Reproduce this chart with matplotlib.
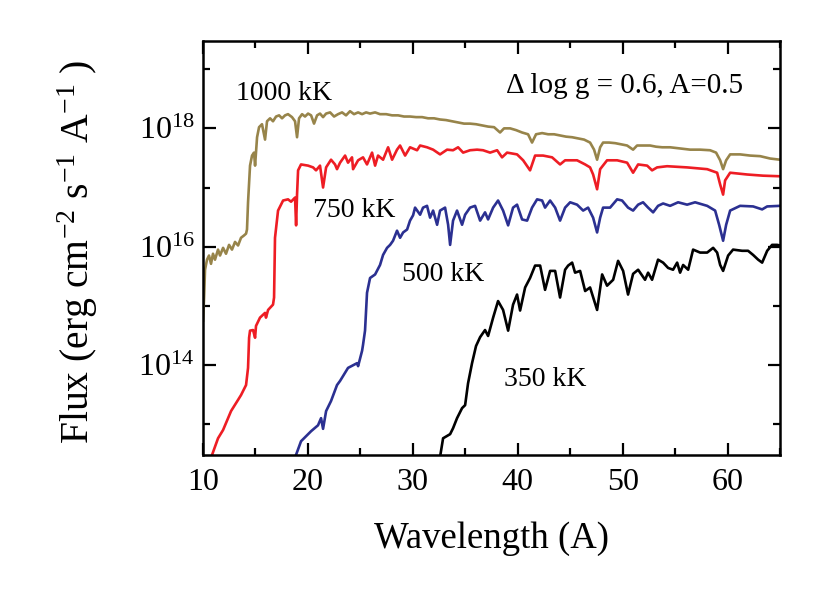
import matplotlib
matplotlib.use("Agg")
import matplotlib.pyplot as plt
import numpy as np
from matplotlib.ticker import FuncFormatter

plt.rcParams["font.family"] = ["Liberation Serif", "DejaVu Serif"]
plt.rcParams["mathtext.fontset"] = "custom"
plt.rcParams["mathtext.rm"] = "Liberation Serif"
plt.rcParams["mathtext.it"] = "Liberation Serif:italic"
plt.rcParams["mathtext.bf"] = "Liberation Serif:bold"

# Spectra: wavelength (A) and log10 of flux
wl_1000 = [10.0, 10.1, 10.19, 10.38, 10.57, 10.76, 10.95, 11.14, 11.43, 11.62, 11.91, 12.19, 12.48, 12.76,
           13.05, 13.34, 13.62, 13.91, 14.1, 14.19, 14.29, 14.39, 14.48, 14.67, 14.86, 14.96, 15.15, 15.34,
           15.62, 15.91, 16.1, 16.39, 16.67, 16.96, 17.25, 17.53, 17.82, 18.1, 18.48, 18.77, 18.96, 19.15,
           19.44, 19.72, 20.01, 20.3, 20.58, 20.87, 21.15, 21.44, 21.73, 22.11, 22.49, 22.87, 23.25, 23.63,
           24.01, 24.39, 24.78, 25.16, 25.54, 25.92, 26.4, 26.87, 27.45, 28.02, 28.59, 29.16, 29.73, 30.31,
           30.88, 31.45, 32.02, 32.59, 33.16, 33.74, 34.31, 34.88, 35.45, 36.02, 36.6, 37.17, 37.74, 38.31,
           38.69, 39.27, 39.84, 40.41, 40.98, 41.36, 41.74, 42.32, 42.89, 43.46, 44.03, 44.6, 45.18, 45.75,
           46.32, 46.89, 47.27, 47.56, 47.85, 48.13, 48.7, 49.28, 49.85, 50.42, 50.99, 51.37, 51.94, 52.61,
           53.18, 53.76, 54.52, 55.47, 56.43, 57.38, 58.33, 58.9, 59.29, 59.57, 59.86, 60.24, 61.19, 62.14,
           63.1, 64.05, 65.0]
logf_1000 = [14.75, 15.14, 15.61, 15.78, 15.85, 15.71, 15.88, 15.78, 15.95, 15.85, 15.98, 15.88, 16.03, 15.95,
             16.08, 16.02, 16.15, 16.19, 16.22, 16.29, 16.75, 17.08, 17.37, 17.54, 17.59, 17.37, 17.85, 18.02,
             18.07, 17.81, 18.12, 18.17, 18.12, 18.2, 18.22, 18.17, 18.22, 18.24, 18.19, 18.12, 17.85, 18.17,
             18.24, 18.2, 18.25, 18.22, 18.08, 18.22, 18.25, 18.19, 18.25, 18.27, 18.2, 18.24, 18.27, 18.22,
             18.29, 18.24, 18.27, 18.24, 18.27, 18.25, 18.27, 18.24, 18.24, 18.22, 18.22, 18.2, 18.2, 18.19,
             18.19, 18.17, 18.17, 18.15, 18.14, 18.12, 18.1, 18.08, 18.08, 18.07, 18.05, 18.03, 18.02, 17.93,
             18.0, 18.0, 17.97, 17.93, 17.9, 17.76, 17.9, 17.92, 17.9, 17.9, 17.88, 17.86, 17.85, 17.83,
             17.81, 17.76, 17.64, 17.47, 17.68, 17.76, 17.76, 17.75, 17.73, 17.71, 17.64, 17.71, 17.71, 17.71,
             17.69, 17.68, 17.68, 17.66, 17.64, 17.64, 17.63, 17.59, 17.46, 17.31, 17.46, 17.56, 17.56, 17.54,
             17.53, 17.49, 17.47]

wl_750 = [10.7, 11.43, 11.91, 12.67, 13.34, 13.62, 14.1, 14.29, 14.39, 14.48, 14.77, 14.96, 15.05, 15.43,
          15.91, 16.0, 16.2, 16.67, 16.77, 16.86, 17.15, 17.63, 18.1, 18.39, 18.77, 18.87, 18.96, 19.06,
          19.34, 20.01, 20.49, 20.77, 21.15, 21.44, 21.73, 22.2, 22.58, 22.77, 23.06, 23.54, 23.82, 24.2,
          24.3, 24.78, 25.25, 25.63, 26.11, 26.4, 26.68, 27.16, 27.64, 28.02, 28.49, 28.78, 29.26, 29.73,
          30.4, 30.69, 31.35, 31.93, 32.59, 33.26, 33.83, 34.31, 34.79, 35.45, 36.12, 36.69, 37.36, 38.03,
          38.5, 38.98, 39.93, 40.51, 41.17, 41.65, 42.41, 43.27, 44.03, 44.51, 45.65, 46.42, 46.89, 47.18,
          47.56, 47.85, 48.51, 49.47, 50.42, 50.99, 51.47, 52.33, 52.8, 53.28, 54.23, 56.14, 58.05, 59.0,
          59.29, 59.57, 59.76, 60.24, 61.86, 63.38, 65.0]
logf_750 = [12.4, 12.76, 12.9, 13.22, 13.41, 13.49, 13.66, 13.95, 14.46, 14.58, 14.59, 14.46, 14.66, 14.8,
            14.88, 14.8, 14.93, 15.02, 15.14, 16.15, 16.61, 16.78, 16.8, 16.76, 16.83, 16.36, 16.88, 17.29,
            17.39, 17.37, 17.34, 17.29, 17.37, 17.0, 17.34, 17.47, 17.39, 17.31, 17.42, 17.54, 17.42, 17.51,
            17.31, 17.46, 17.51, 17.39, 17.59, 17.37, 17.54, 17.47, 17.68, 17.47, 17.64, 17.71, 17.54, 17.68,
            17.63, 17.71, 17.68, 17.64, 17.56, 17.64, 17.63, 17.68, 17.59, 17.63, 17.64, 17.63, 17.59, 17.63,
            17.51, 17.59, 17.56, 17.46, 17.29, 17.54, 17.54, 17.51, 17.39, 17.46, 17.46, 17.39, 17.34, 17.22,
            16.97, 17.31, 17.46, 17.46, 17.42, 17.25, 17.39, 17.37, 17.29, 17.34, 17.36, 17.34, 17.31, 17.25,
            17.05, 16.88, 17.12, 17.25, 17.22, 17.2, 17.19]

wl_500 = [18.7, 19.34, 20.3, 20.96, 21.25, 21.44, 21.73, 22.2, 22.77, 23.06, 23.82, 24.68, 24.78, 25.16,
          25.25, 25.44, 25.63, 25.92, 26.4, 26.87, 27.16, 27.54, 27.83, 28.11, 28.49, 28.78, 29.07, 29.45,
          29.73, 30.02, 30.21, 30.69, 30.97, 31.35, 31.64, 31.93, 32.31, 32.59, 33.07, 33.36, 33.55, 33.83,
          34.21, 34.69, 34.98, 35.45, 35.93, 36.41, 36.88, 37.17, 37.65, 38.12, 38.6, 39.08, 39.55, 39.93,
          40.41, 40.89, 41.36, 41.84, 42.32, 42.6, 43.08, 43.56, 44.03, 44.51, 44.99, 45.65, 46.23, 46.7,
          47.18, 47.56, 47.85, 48.13, 48.8, 49.47, 49.94, 50.51, 50.99, 51.47, 51.94, 52.42, 52.9, 53.37,
          53.85, 54.52, 55.28, 56.14, 56.9, 58.05, 58.81, 59.19, 59.57, 59.86, 60.24, 61.19, 62.43, 63.29,
          63.77, 65.0]
logf_500 = [12.4, 12.71, 12.88, 12.98, 13.1, 12.92, 13.22, 13.39, 13.66, 13.73, 13.95, 14.03, 13.98, 14.24,
            14.34, 14.58, 15.22, 15.47, 15.53, 15.69, 15.86, 15.98, 16.03, 16.1, 16.27, 16.15, 16.24, 16.29,
            16.44, 16.53, 16.66, 16.54, 16.66, 16.69, 16.49, 16.61, 16.37, 16.61, 16.66, 16.37, 16.03, 16.44,
            16.61, 16.37, 16.54, 16.66, 16.69, 16.44, 16.58, 16.46, 16.66, 16.78, 16.61, 16.36, 16.66, 16.71,
            16.46, 16.44, 16.66, 16.8, 16.78, 16.66, 16.78, 16.66, 16.44, 16.66, 16.75, 16.71, 16.61, 16.66,
            16.49, 16.24, 16.49, 16.66, 16.66, 16.8, 16.78, 16.66, 16.61, 16.71, 16.75, 16.66, 16.58, 16.69,
            16.73, 16.69, 16.75, 16.71, 16.75, 16.69, 16.61, 16.37, 16.1, 16.37, 16.61, 16.69, 16.68, 16.63,
            16.68, 16.69]

wl_350 = [32.55, 32.88, 33.55, 33.83, 34.21, 34.69, 34.98, 35.26, 35.64, 36.02, 36.41, 36.88, 37.17, 37.65,
          38.12, 38.6, 39.08, 39.55, 39.93, 40.22, 40.7, 41.17, 41.65, 42.13, 42.6, 43.08, 43.56, 44.03,
          44.51, 44.8, 45.18, 45.46, 45.94, 46.42, 46.89, 47.56, 48.04, 48.51, 49.09, 49.56, 50.04, 50.51,
          50.99, 51.47, 52.13, 52.42, 52.8, 53.37, 53.85, 54.33, 54.8, 55.19, 55.47, 55.76, 56.24, 56.71,
          57.38, 58.05, 58.62, 59.0, 59.29, 59.57, 60.05, 60.52, 61.38, 61.95, 62.43, 62.91, 63.29, 63.77,
          64.24, 64.72, 65.0]
logf_350 = [12.4, 12.76, 12.83, 12.93, 13.1, 13.27, 13.32, 13.69, 14.03, 14.32, 14.47, 14.59, 14.49, 14.8,
            15.08, 14.93, 14.58, 15.02, 15.19, 14.92, 15.31, 15.47, 15.68, 15.68, 15.27, 15.59, 15.59, 15.14,
            15.61, 15.68, 15.73, 15.56, 15.59, 15.25, 15.31, 14.93, 15.53, 15.34, 15.44, 15.76, 15.59, 15.19,
            15.54, 15.61, 15.44, 15.56, 15.44, 15.78, 15.73, 15.64, 15.61, 15.73, 15.56, 15.69, 15.61, 15.95,
            15.9, 15.9, 15.98, 15.9, 15.69, 15.59, 15.85, 15.95, 15.93, 15.93, 15.86, 15.78, 15.73, 15.93,
            16.03, 16.03, 16.02]

fig = plt.figure(figsize=(8.22, 6.12), dpi=100)
ax = fig.add_axes([0.247, 0.2565, 0.702, 0.6765])

lw = 1.9
ax.plot(wl_1000, 10 ** np.array(logf_1000), color="#97844A", lw=lw)
ax.plot(wl_750, 10 ** np.array(logf_750), color="#EE1D24", lw=lw)
ax.plot(wl_500, 10 ** np.array(logf_500), color="#2B3091", lw=lw)
ax.plot(wl_350, 10 ** np.array(logf_350), color="black", lw=lw)

ax.set_yscale("log")
ax.set_xlim(10, 65)
ax.set_ylim(10 ** 12.477, 10 ** 19.477)

ax.set_xticks([10, 20, 30, 40, 50, 60])
ax.set_xticks([15, 25, 35, 45, 55, 65], minor=True)
ax.set_yticks([1e14, 1e16, 1e18])
ax.set_yticks([1e13, 1e15, 1e17, 1e19], minor=True)
ax.yaxis.set_minor_formatter(FuncFormatter(lambda v, p: ""))
ax.yaxis.set_major_formatter(FuncFormatter(lambda v, p: r"$\mathrm{10^{%d}}$" % round(np.log10(v))))

ax.tick_params(which="both", direction="in", top=True, right=True, width=1.6)
ax.tick_params(which="major", length=9)
ax.tick_params(which="minor", length=5)
ax.tick_params(axis="x", labelsize=23, pad=9)
ax.tick_params(axis="y", labelsize=23, pad=6)
for s in ax.spines.values():
    s.set_linewidth(1.8)

ax.set_xlabel("Wavelength (A)", fontsize=26.5)
ax.xaxis.set_label_coords(0.5, -0.16)
ax.set_ylabel(r"Flux (erg cm$^{-2}$ s$^{-1}$ A$^{-1}$ )", fontsize=28.5, va="center")
ax.yaxis.set_label_coords(-0.217, 0.49)

ax.text(17.7, 10 ** 18.59, "1000 kK", fontsize=20, ha="center", va="center")
ax.text(24.4, 10 ** 16.61, "750 kK", fontsize=20, ha="center", va="center")
ax.text(32.9, 10 ** 15.53, "500 kK", fontsize=20, ha="center", va="center")
ax.text(42.6, 10 ** 13.75, "350 kK", fontsize=20, ha="center", va="center")
ax.text(0.731, 0.891, "Δ log g = 0.6, A=0.5", fontsize=21, ha="center", va="center",
        transform=ax.transAxes)

fig.savefig("out.png", dpi=100)
